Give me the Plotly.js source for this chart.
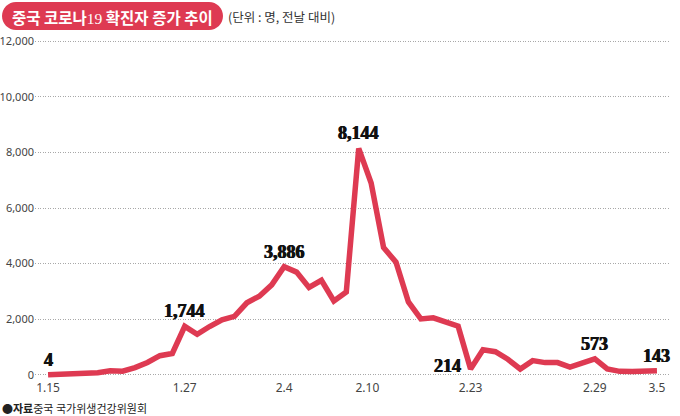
<!DOCTYPE html>
<html>
<head>
<meta charset="utf-8">
<script src="https://cdn.plot.ly/plotly-3.0.1.min.js"></script>
<style>
  html, body { margin: 0; padding: 0; background: #ffffff; }
  #chart { width: 680px; height: 416px; }
</style>
</head>
<body>
<div id="chart"></div>
<script>
// Daily new confirmed cases (one point per day)
const dailyCases = [4, 17, 59, 77, 77, 149, 131, 259, 444, 688,
  769, 1744, 1459, 1737, 1982, 2102, 2590, 2829, 3235, 3886,
  3694, 3143, 3399, 2656, 2980, 8144, 6900, 4580, 4050, 2620,
  2009, 2048, 1886, 1749, 214, 900, 830, 560, 210, 510,
  440, 440, 280, 410, 573, 210, 125, 119, 139, 143];

// x-axis date labels and where they sit (point index)
const tickIdx = [0, 11, 19, 25.7, 34, 44, 49];
const tickLabels = ['1.15', '1.27', '2.4', '2.10', '2.23', '2.29', '3.5'];

// points that carry a value label
const labelIdx = [0, 11, 19, 25, 34, 44, 49];

// y-axis ticks
const yTicks = [0, 2000, 4000, 6000, 8000, 10000, 12000];

const titleText = '중국 코로나<span style="font-family:\'Liberation Serif\';font-weight:normal">19</span> 확진자 증가 추이';
const unitText = '(단위 : 명, 전날 대비)';
const sourceText = '<b>●자료</b>중국 국가위생건강위원회';

const RED = '#DE3A52';
const dayIndex = dailyCases.map((_, i) => i);

// geometry helpers (pixel -> paper)
const W = 680, H = 416;
const M = { l: 35, r: 10, t: 37, b: 37 };
const plotW = W - M.l - M.r, plotH = H - M.t - M.b;
const px = x => (x - M.l) / plotW;
const py = y => (H - M.b - y) / plotH;

const trace = {
  x: dayIndex,
  y: dailyCases,
  type: 'scatter',
  mode: 'lines',
  line: { color: RED, width: 5.5 },
  hoverinfo: 'skip'
};

const valueAnnotations = labelIdx.map(i => {
  const isDip = dailyCases[i] === 214;
  return {
    x: i, y: dailyCases[i], xref: 'x', yref: 'y',
    text: dailyCases[i].toLocaleString('en-US'),
    showarrow: false,
    xanchor: isDip ? 'right' : 'center',
    yanchor: 'middle',
    xshift: isDip ? -8 : 0,
    yshift: isDip ? 3 : 15,
    font: { family: 'Liberation Serif', size: 18, color: '#111111', weight: 'bold',
            shadow: '0.5px 0 0 #111111, -0.5px 0 0 #111111' }
  };
});

const pillR = 14, pillHalfW = 110.5, k = 0.5523 * pillR, s = pillHalfW - pillR;
const pillPath = `M ${-s} ${-pillR} L ${s} ${-pillR} C ${s + k} ${-pillR} ${pillHalfW} ${-k} ${pillHalfW} 0 ` +
  `C ${pillHalfW} ${k} ${s + k} ${pillR} ${s} ${pillR} L ${-s} ${pillR} ` +
  `C ${-s - k} ${pillR} ${-pillHalfW} ${k} ${-pillHalfW} 0 C ${-pillHalfW} ${-k} ${-s - k} ${-pillR} ${-s} ${-pillR} Z`;

const layout = {
  width: W, height: H,
  margin: { l: M.l, r: M.r, t: M.t, b: M.b, pad: 0 },
  paper_bgcolor: '#ffffff',
  plot_bgcolor: '#ffffff',
  showlegend: false,
  font: { family: 'Noto Sans, Noto Sans CJK KR, sans-serif', color: '#555555' },
  xaxis: {
    range: [-1.05, 50.05],
    tickmode: 'array', tickvals: tickIdx, ticktext: tickLabels,
    showgrid: false, zeroline: false, showline: false, ticks: '',
    tickfont: { family: 'Noto Sans', size: 12, color: '#444444' },
    fixedrange: true
  },
  yaxis: {
    range: [-150, 12150],
    tickmode: 'array', tickvals: yTicks, tickformat: ',',
    showgrid: true, gridcolor: '#a8a8a8', gridwidth: 1, griddash: '1px,1.5px',
    zeroline: false, showline: false, ticks: '',
    tickfont: { family: 'Noto Sans', size: 11, color: '#444444' },
    fixedrange: true
  },
  shapes: [{
    type: 'path', layer: 'below',
    xref: 'paper', yref: 'paper',
    xsizemode: 'pixel', ysizemode: 'pixel',
    xanchor: px(112.5), yanchor: py(16),
    path: pillPath,
    fillcolor: RED, line: { width: 0 }
  }],
  annotations: valueAnnotations.concat([
    {
      xref: 'paper', yref: 'paper', x: px(112.5), y: py(16.5),
      xanchor: 'center', yanchor: 'middle', showarrow: false,
      text: titleText,
      font: { family: 'Noto Sans CJK KR', size: 15.5, color: '#ffffff', weight: 'bold' }
    },
    {
      xref: 'paper', yref: 'paper', x: px(226), y: py(16),
      xanchor: 'left', yanchor: 'middle', showarrow: false,
      text: unitText,
      font: { family: 'Noto Sans CJK KR', size: 12.5, color: '#333333' }
    },
    {
      xref: 'paper', yref: 'paper', x: px(0), y: py(408),
      xanchor: 'left', yanchor: 'middle', showarrow: false,
      text: sourceText,
      font: { family: 'Noto Sans CJK KR', size: 11, color: '#222222' }
    }
  ])
};

Plotly.newPlot('chart', [trace], layout, { staticPlot: true, displayModeBar: false });
</script>
</body>
</html>
